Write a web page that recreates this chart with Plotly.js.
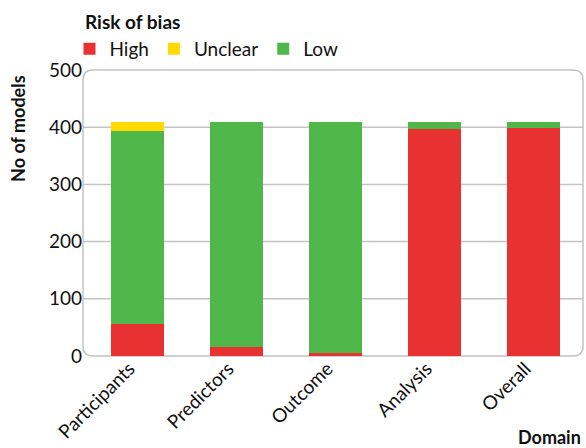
<!DOCTYPE html>
<html>
<head>
<meta charset="utf-8">
<script src="https://cdn.plot.ly/plotly-3.0.1.min.js"></script>
<style>html,body{margin:0;padding:0;background:#fff;}#chart{width:586px;height:448px;}</style>
</head>
<body>
<div id="chart"></div>
<script>
var domains = ["Participants", "Predictors", "Outcome", "Analysis", "Overall"];
var highVals = [56, 15, 5, 396, 398];
var lowVals = [338, 394, 404, 13, 11];
var unclearVals = [15, 0, 0, 0, 0];
var yTickVals = [0, 100, 200, 300, 400, 500];
var gridVals = [100, 200, 300, 400];

var FONT = "Lato, 'Open Sans', sans-serif";
var colHigh = "#E83131", colUnclear = "#FFDA00", colLow = "#50B84B";

var traces = [
  {type: "bar", name: "High", x: domains, y: highVals, marker: {color: colHigh}, legendrank: 1},
  {type: "bar", name: "Low", x: domains, y: lowVals, marker: {color: colLow}, legendrank: 3},
  {type: "bar", name: "Unclear", x: domains, y: unclearVals, marker: {color: colUnclear}, legendrank: 2}
];

var shapes = gridVals.map(function (v) {
  return {type: "line", xref: "paper", yref: "y", x0: 0, x1: 1, y0: v, y1: v,
          line: {color: "#C4C4C4", width: 1.5}, layer: "below"};
});
var rx = 0.02, ry = 0.035;
shapes.push({
  type: "path", xref: "paper", yref: "paper", layer: "below",
  path: "M " + rx + ",0 L " + (1 - rx) + ",0 Q 1,0 1," + ry + " L 1," + (1 - ry) +
        " Q 1,1 " + (1 - rx) + ",1 L " + rx + ",1 Q 0,1 0," + (1 - ry) +
        " L 0," + ry + " Q 0,0 " + rx + ",0 Z",
  line: {color: "#C4C4C4", width: 1.5}
});

var layout = {
  width: 586, height: 448,
  margin: {l: 83, r: 3, t: 70, b: 92},
  barmode: "stack",
  bargap: 0.465,
  paper_bgcolor: "#fff", plot_bgcolor: "rgba(0,0,0,0)",
  font: {family: FONT, size: 19, color: "#111"},
  showlegend: true,
  legend: {
    orientation: "h", x: -0.027, xanchor: "left", y: 1.14, yanchor: "top",
    bgcolor: "rgba(0,0,0,0)",
    font: {size: 19, family: FONT}, traceorder: "normal",
    itemwidth: 30, tracegroupgap: 0
  },
  xaxis: {
    type: "category", range: [-0.55, 4.5], tickangle: -45,
    showgrid: false, showline: false, zeroline: false, ticks: "",
    ticklabelshift: -8, ticklabelstandoff: -3,
    tickfont: {size: 19, family: FONT}, fixedrange: true
  },
  yaxis: {
    range: [0, 500], tickvals: yTickVals, showgrid: false, zeroline: false,
    showline: false, ticks: "", tickfont: {size: 19, family: FONT}, fixedrange: true
  },
  shapes: shapes,
  annotations: [
    {text: "<b>Risk of bias</b>", xref: "paper", yref: "paper", x: 0, y: 1.171,
     xanchor: "left", yanchor: "middle", showarrow: false,
     font: {size: 19, family: FONT, color: "#111"}},
    {text: "<b>No of models</b>", xref: "paper", yref: "paper", x: -0.13, y: 0.794,
     xanchor: "center", yanchor: "middle", textangle: -90, showarrow: false,
     font: {size: 18, family: FONT, color: "#111"}},
    {text: "<b>Domain</b>", xref: "paper", yref: "paper", x: 1, y: -0.283,
     xanchor: "right", yanchor: "middle", showarrow: false,
     font: {size: 18, family: FONT, color: "#111"}}
  ]
};

Plotly.newPlot("chart", traces, layout, {displayModeBar: false, staticPlot: true});
</script>
</body>
</html>
